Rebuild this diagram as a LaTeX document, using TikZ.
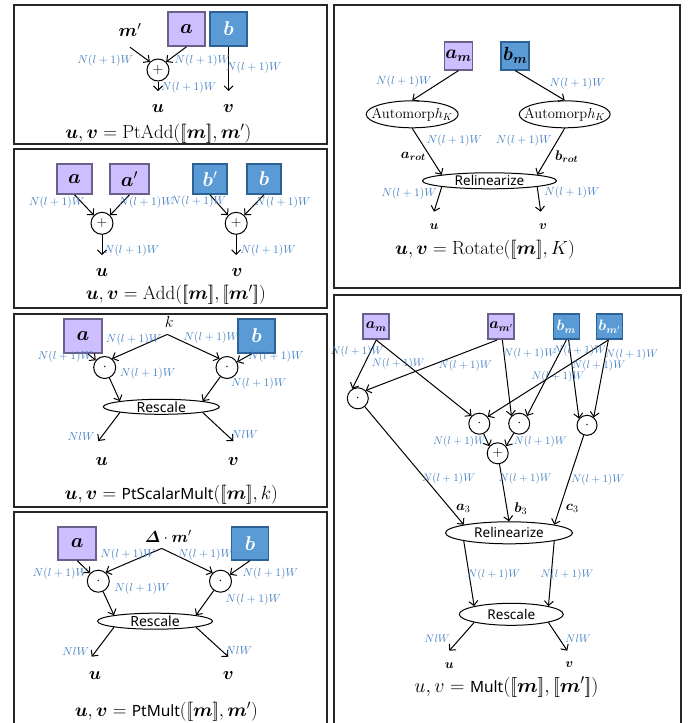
\documentclass[tikz,border=0pt]{standalone}
\usepackage{fix-cm}
\usepackage{amsmath,bm}
\usepackage{fontspec}
\setsansfont{Noto Sans}
\usetikzlibrary{arrows.meta,shapes.geometric}

\definecolor{pfill}{HTML}{CCBEFF}
\definecolor{pline}{HTML}{6B5F8C}
\definecolor{bfill}{HTML}{5B9BD5}
\definecolor{bline}{HTML}{2E6296}
\definecolor{lblue}{HTML}{4682C4}

\newcommand\fsz[1]{\fontsize{#1}{#1}\selectfont}
\newcommand\dbl[1]{[\![#1]\!]}
\newcommand\nlw{$N(l+1)W$}
\newcommand\opname[1]{\textsf{\fsz{15.5}#1}}

\begin{document}
\begin{tikzpicture}[x=1pt,y=-1pt,
  panel/.style={draw=black!85,line width=1.4pt},
  pbox/.style={draw=pline,fill=pfill,line width=1.6pt,inner sep=0pt},
  bbox/.style={draw=bline,fill=bfill,line width=1.6pt,inner sep=0pt},
  opc/.style={circle,draw,line width=1pt,minimum size=22pt,inner sep=0pt,font=\fsz{14}},
  ell/.style={ellipse,draw,line width=1pt,inner xsep=-10pt,inner ysep=-3pt},
  lab/.style={text=lblue,font=\fsz{11.5},inner sep=0pt},
  arr/.style={draw,line width=1pt,-{Straight Barb[length=4.5pt,width=9pt]}},
  txt/.style={inner sep=0pt},
  outtxt/.style={inner sep=0pt,font=\fsz{18}},
  captxt/.style={inner sep=0pt,font=\fsz{19}}]

\fill[white] (0,0) rectangle (689,723);
\useasboundingbox (0,0) rectangle (689,723);

% panel frames
\draw[panel] (14,5) rectangle (327,144);
\draw[panel] (14,149) rectangle (327,308);
\draw[panel] (14,314) rectangle (327,507);
\draw[panel] (14,512) rectangle (327,726);
\draw[panel] (334,5) rectangle (680,288);
\draw[panel] (334,295) rectangle (681,726);

% ---------- PtAdd ----------
\node[pbox,minimum width=37pt,minimum height=34pt,font=\fsz{20}] (a1) at (186.5,29) {$\bm a$};
\node[bbox,minimum width=37pt,minimum height=34pt,font=\fsz{20},text=white] (b1) at (228.5,29) {$\bm b$};
\node[txt,font=\fsz{18},minimum height=34pt] (mp1) at (130,30) {$\bm m'$};
\node[opc] (s1) at (158,70) {$+$};
\coordinate (u1e) at (158,91);
\coordinate (v1e) at (228.5,91);
\node[outtxt] (u1) at (158,108) {$\bm u$};
\node[outtxt] (v1) at (228.5,108) {$\bm v$};
\draw[arr] (mp1.south) -- (s1.135);
\draw[arr] (a1.south) -- (s1.45);
\draw[arr] (b1.south) -- (v1e);
\draw[arr] (s1) -- (u1e);
\node[lab] (l1a) at (105.3,60.7) {\nlw};
\node[lab] (l1b) at (202.3,60.7) {\nlw};
\node[lab] (l1c) at (253.8,67.7) {\nlw};
\node[lab] (l1d) at (188.7,87.3) {\nlw};
\node[captxt] (c1) at (158.3,134) {$\bm u,\bm v=\mathrm{PtAdd}(\dbl{\bm m},\bm m')$};

% ---------- Add ----------
\node[pbox,minimum width=35pt,minimum height=30pt,font=\fsz{20}] (a2) at (74.5,179) {$\bm a$};
\node[pbox,minimum width=39pt,minimum height=30pt,font=\fsz{20}] (ap2) at (129.5,179) {$\bm a'$};
\node[bbox,minimum width=34pt,minimum height=30pt,font=\fsz{20},text=white] (bp2) at (210,179) {$\bm b'$};
\node[bbox,minimum width=34pt,minimum height=30pt,font=\fsz{20},text=white] (b2) at (264,179) {$\bm b$};
\node[opc] (s2l) at (102,223.3) {$+$};
\node[opc] (s2r) at (236.2,223.3) {$+$};
\coordinate (u2e) at (102,255);
\coordinate (v2e) at (236.2,255);
\node[outtxt] (u2) at (102,272) {$\bm u$};
\node[outtxt] (v2) at (237,272) {$\bm v$};
\draw[arr] (a2.south) -- (s2l.135);
\draw[arr] (ap2.south) -- (s2l.45);
\draw[arr] (bp2.south) -- (s2r.135);
\draw[arr] (b2.south) -- (s2r.45);
\draw[arr] (s2l) -- (u2e);
\draw[arr] (s2r) -- (v2e);
\node[lab] (l2a) at (56.7,202.3) {\nlw};
\node[lab] (l2b) at (146.2,202.3) {\nlw};
\node[lab] (l2c) at (198.3,201.7) {\nlw};
\node[lab] (l2d) at (283,202.3) {\nlw};
\node[lab] (l2e) at (131.7,251) {\nlw};
\node[lab] (l2f) at (268.2,251) {\nlw};
\node[captxt] (c2) at (175.8,295) {$\bm u,\bm v=\mathrm{Add}(\dbl{\bm m},\dbl{\bm m'})$};

% ---------- PtScalarMult ----------
\node[pbox,minimum width=38pt,minimum height=34pt,font=\fsz{20}] (a3) at (83,336) {$\bm a$};
\node[bbox,minimum width=37pt,minimum height=34pt,font=\fsz{20},text=white] (b3) at (256.5,336) {$\bm b$};
\node[txt,font=\fsz{16},minimum height=25pt] (k3) at (169.3,321.7) {$k$};
\node[opc] (d3l) at (104.7,367.5) {$\cdot$};
\node[opc] (d3r) at (227,367.5) {$\cdot$};
\node[ell,minimum width=116pt,minimum height=15pt,font=\sffamily\fsz{14}] (resc3) at (161.3,406.8) {Rescale};
\coordinate (u3e) at (98.3,441);
\coordinate (v3e) at (233.3,441);
\node[outtxt] (u3) at (101.7,461.7) {$\bm u$};
\node[outtxt] (v3) at (233.3,461.7) {$\bm v$};
\draw[arr] ([xshift=-2pt]k3.south) -- (d3l.50);
\draw[arr] ([xshift=-2pt]k3.south) -- (d3r.130);
\draw[arr] (a3.-75) -- (d3l);
\draw[arr] (b3.-105) -- (d3r);
\draw[arr] (d3l) -- (resc3.north west);
\draw[arr] (d3r) -- (resc3.north east);
\draw[arr] (resc3.south west) -- (u3e);
\draw[arr] (resc3.south east) -- (v3e);
\node[lab] (l3a) at (133.7,339.3) {\nlw};
\node[lab] (l3b) at (211.3,338) {\nlw};
\node[lab] (l3c) at (65.5,356.7) {\nlw};
\node[lab] (l3d) at (276,356.7) {\nlw};
\node[lab] (l3e) at (147.7,373.3) {\nlw};
\node[lab] (l3f) at (258.7,384) {\nlw};
\node[lab] (l3g) at (81.3,436.7) {$NlW$};
\node[lab] (l3h) at (244.5,435) {$NlW$};
\node[captxt] (c3) at (171.3,494.3) {$\bm u,\bm v=\opname{PtScalarMult}(\dbl{\bm m},k)$};

% ---------- PtMult ----------
\node[pbox,minimum width=38pt,minimum height=33pt,font=\fsz{20}] (a4) at (77.2,543.3) {$\bm a$};
\node[bbox,minimum width=37pt,minimum height=33pt,font=\fsz{20},text=white] (b4) at (250,543.3) {$\bm b$};
\node[txt,font=\fsz{16},minimum height=23pt] (dm4) at (168.3,536.7) {$\bm{\varDelta}\cdot\bm m'$};
\node[opc] (d4l) at (98.3,581.2) {$\cdot$};
\node[opc] (d4r) at (220.5,581.2) {$\cdot$};
\node[ell,minimum width=115pt,minimum height=16pt,font=\sffamily\fsz{14}] (resc4) at (155,621.2) {Rescale};
\coordinate (u4e) at (91.7,656.7);
\coordinate (v4e) at (228.3,656.7);
\node[outtxt] (u4) at (95,675.7) {$\bm u$};
\node[outtxt] (v4) at (228.3,675.7) {$\bm v$};
\draw[arr] ([xshift=-6.6pt]dm4.south) -- (d4l.50);
\draw[arr] ([xshift=-6.6pt]dm4.south) -- (d4r.133);
\draw[arr] (a4.south) -- (d4l);
\draw[arr] (b4.south) -- (d4r);
\draw[arr] (d4l) -- (resc4.north west);
\draw[arr] (d4r) -- (resc4.north east);
\draw[arr] (resc4.south west) -- (u4e);
\draw[arr] (resc4.south east) -- (v4e);
\node[lab] (l4a) at (128,555) {\nlw};
\node[lab] (l4b) at (205.5,555) {\nlw};
\node[lab] (l4c) at (60.5,573.3) {\nlw};
\node[lab] (l4d) at (270.3,573.3) {\nlw};
\node[lab] (l4e) at (142,588.3) {\nlw};
\node[lab] (l4f) at (253.3,599.3) {\nlw};
\node[lab] (l4g) at (75.8,651.7) {$NlW$};
\node[lab] (l4h) at (238.8,650) {$NlW$};
\node[captxt] (c4) at (166.3,711.7) {$\bm u,\bm v=\opname{PtMult}(\dbl{\bm m},\bm m')$};

% ---------- Rotate ----------
\node[pbox,minimum width=28pt,minimum height=28pt,font=\fsz{19}] (am5) at (458.5,55.8) {$\bm a_{\bm m}$};
\node[bbox,minimum width=28pt,minimum height=28pt,font=\fsz{19}] (bm5) at (515.2,55.8) {$\bm b_{\bm m}$};
\node[ell,minimum width=92pt,minimum height=27pt,font=\fsz{14.5}] (aut5l) at (412.2,114.3) {Automorp$h_K$};
\node[ell,minimum width=91pt,minimum height=27pt,font=\fsz{14.5}] (aut5r) at (564.7,114.3) {Automorp$h_K$};
\node[ell,minimum width=134pt,minimum height=16pt,font=\sffamily\fsz{13.5}] (rel5) at (489.5,180.8) {Relinearize};
\coordinate (u5e) at (434,211.7);
\coordinate (v5e) at (540.7,211.7);
\node[txt,font=\fsz{13}] (u5) at (434,227) {$\bm u$};
\node[txt,font=\fsz{13}] (v5) at (543,227) {$\bm v$};
\node[txt,font=\fsz{14}] (ar5) at (413.3,156.7) {$\bm a_{\bm{rot}}$};
\node[txt,font=\fsz{14}] (br5) at (566.7,156.7) {$\bm b_{\bm{rot}}$};
\draw[arr] (am5.south) -- (aut5l.north);
\draw[arr] (bm5.south) -- (aut5r.north);
\draw[arr] (aut5l.south) -- (rel5.north west);
\draw[arr] (aut5r.south) -- (rel5.north east);
\draw[arr] (rel5.south west) -- (u5e);
\draw[arr] (rel5.south east) -- (v5e);
\node[lab] (l5a) at (403.8,81.7) {\nlw};
\node[lab] (l5b) at (577.2,83.3) {\nlw};
\node[lab] (l5c) at (454.5,141) {\nlw};
\node[lab] (l5d) at (523.8,141) {\nlw};
\node[lab] (l5e) at (409.2,194) {\nlw};
\node[lab] (l5f) at (572,192.7) {\nlw};
\node[captxt] (c5) at (485,250) {$\bm u,\bm v=\mathrm{Rotate}(\dbl{\bm m},K)$};

% ---------- Mult ----------
\node[pbox,minimum width=26pt,minimum height=25pt,font=\fsz{15}] (am6) at (376.2,326.7) {$\bm a_{\bm m}$};
\node[pbox,minimum width=26pt,minimum height=25pt,font=\fsz{15}] (amp6) at (501.2,326.7) {$\bm a_{\bm m'}$};
\node[bbox,minimum width=26pt,minimum height=25pt,font=\fsz{15},text=white] (bm6) at (566.3,326.7) {$\bm b_{\bm m}$};
\node[bbox,minimum width=26pt,minimum height=25pt,font=\fsz{15},text=white] (bmp6) at (609.5,326.7) {$\bm b_{\bm m'}$};
\node[opc,minimum size=21pt] (d6a) at (357.8,398.3) {$\cdot$};
\node[opc,minimum size=21pt] (d6b) at (479.3,423.7) {$\cdot$};
\node[opc,minimum size=21pt] (d6c) at (519.2,423.7) {$\cdot$};
\node[opc,minimum size=20pt] (d6d) at (587,425.3) {$\cdot$};
\node[opc,minimum size=21pt] (s6) at (497.7,453.3) {$+$};
\node[ell,minimum width=127pt,minimum height=22pt,font=\sffamily\fsz{13.5}] (rel6) at (509,532.8) {Relinearize};
\node[ell,minimum width=104pt,minimum height=22pt,font=\sffamily\fsz{13.5}] (resc6) at (511.3,614.3) {Rescale};
\node[txt,font=\fsz{14}] (a36) at (463.3,508.3) {$\bm a_3$};
\node[txt,font=\fsz{14}] (b36) at (520.7,508.3) {$\bm b_3$};
\node[txt,font=\fsz{14}] (c36) at (572.3,508.3) {$\bm c_3$};
\coordinate (u6e) at (449.3,650.7);
\coordinate (v6e) at (567.3,650.7);
\node[txt,font=\fsz{13}] (u6) at (449.3,666) {$\bm u$};
\node[txt,font=\fsz{13}] (v6) at (569.3,665) {$\bm v$};
\draw[arr] (am6.south) -- (d6a.120);
\draw[arr] (am6.south) -- (d6b.135);
\draw[arr] (amp6.-107) -- (d6a.45);
\draw[arr] (amp6.-85) -- (d6c.135);
\draw[arr] (bm6.south) -- (d6c.45);
\draw[arr] (bm6.-80) -- (d6d.140);
\draw[arr] (bmp6.-95) -- (d6b.40);
\draw[arr] (bmp6.-95) -- (d6d.50);
\draw[arr] (d6b) -- (s6.140);
\draw[arr] (d6c) -- (s6.40);
\draw[arr] (d6a) -- (rel6.north west);
\draw[arr] (s6) -- (rel6.north);
\draw[arr] (d6d) -- (rel6.north east);
\draw[arr] (rel6.south west) -- (resc6.north west);
\draw[arr] (rel6.south east) -- (resc6.north east);
\draw[arr] (resc6.south west) -- (u6e);
\draw[arr] (resc6.south east) -- (v6e);
\begin{scope}[lab/.append style={font=\fsz{11}}]
\node[lab] (l6a) at (357,351.7) {\nlw};
\node[lab] (l6b) at (398.3,363.3) {\nlw};
\node[lab] (l6c) at (465.3,366) {\nlw};
\node[lab] (l6d) at (529.7,354) {\nlw};
\node[lab] (l6e) at (579.7,350.7) {\nlw};
\node[lab] (l6f) at (631.7,355) {\nlw};
\node[lab] (l6g) at (598.7,366) {\nlw};
\node[lab] (l6h) at (557.8,376.7) {\nlw};
\node[lab] (l6i) at (459.5,441.7) {\nlw};
\node[lab] (l6j) at (540.3,441.7) {\nlw};
\node[lab] (l6k) at (448.7,479) {\nlw};
\node[lab] (l6l) at (525.3,479) {\nlw};
\node[lab] (l6m) at (597.8,480) {\nlw};
\node[lab] (l6n) at (493.8,575) {\nlw};
\node[lab] (l6o) at (567,575) {\nlw};
\node[lab] (l6p) at (437.2,639) {$NlW$};
\node[lab] (l6q) at (578.2,639) {$NlW$};
\end{scope}
\node[captxt,font=\fsz{20}] (c6) at (506.5,687) {$u,v=\opname{Mult}(\dbl{\bm m},\dbl{\bm m'})$};
\end{tikzpicture}
\end{document}
